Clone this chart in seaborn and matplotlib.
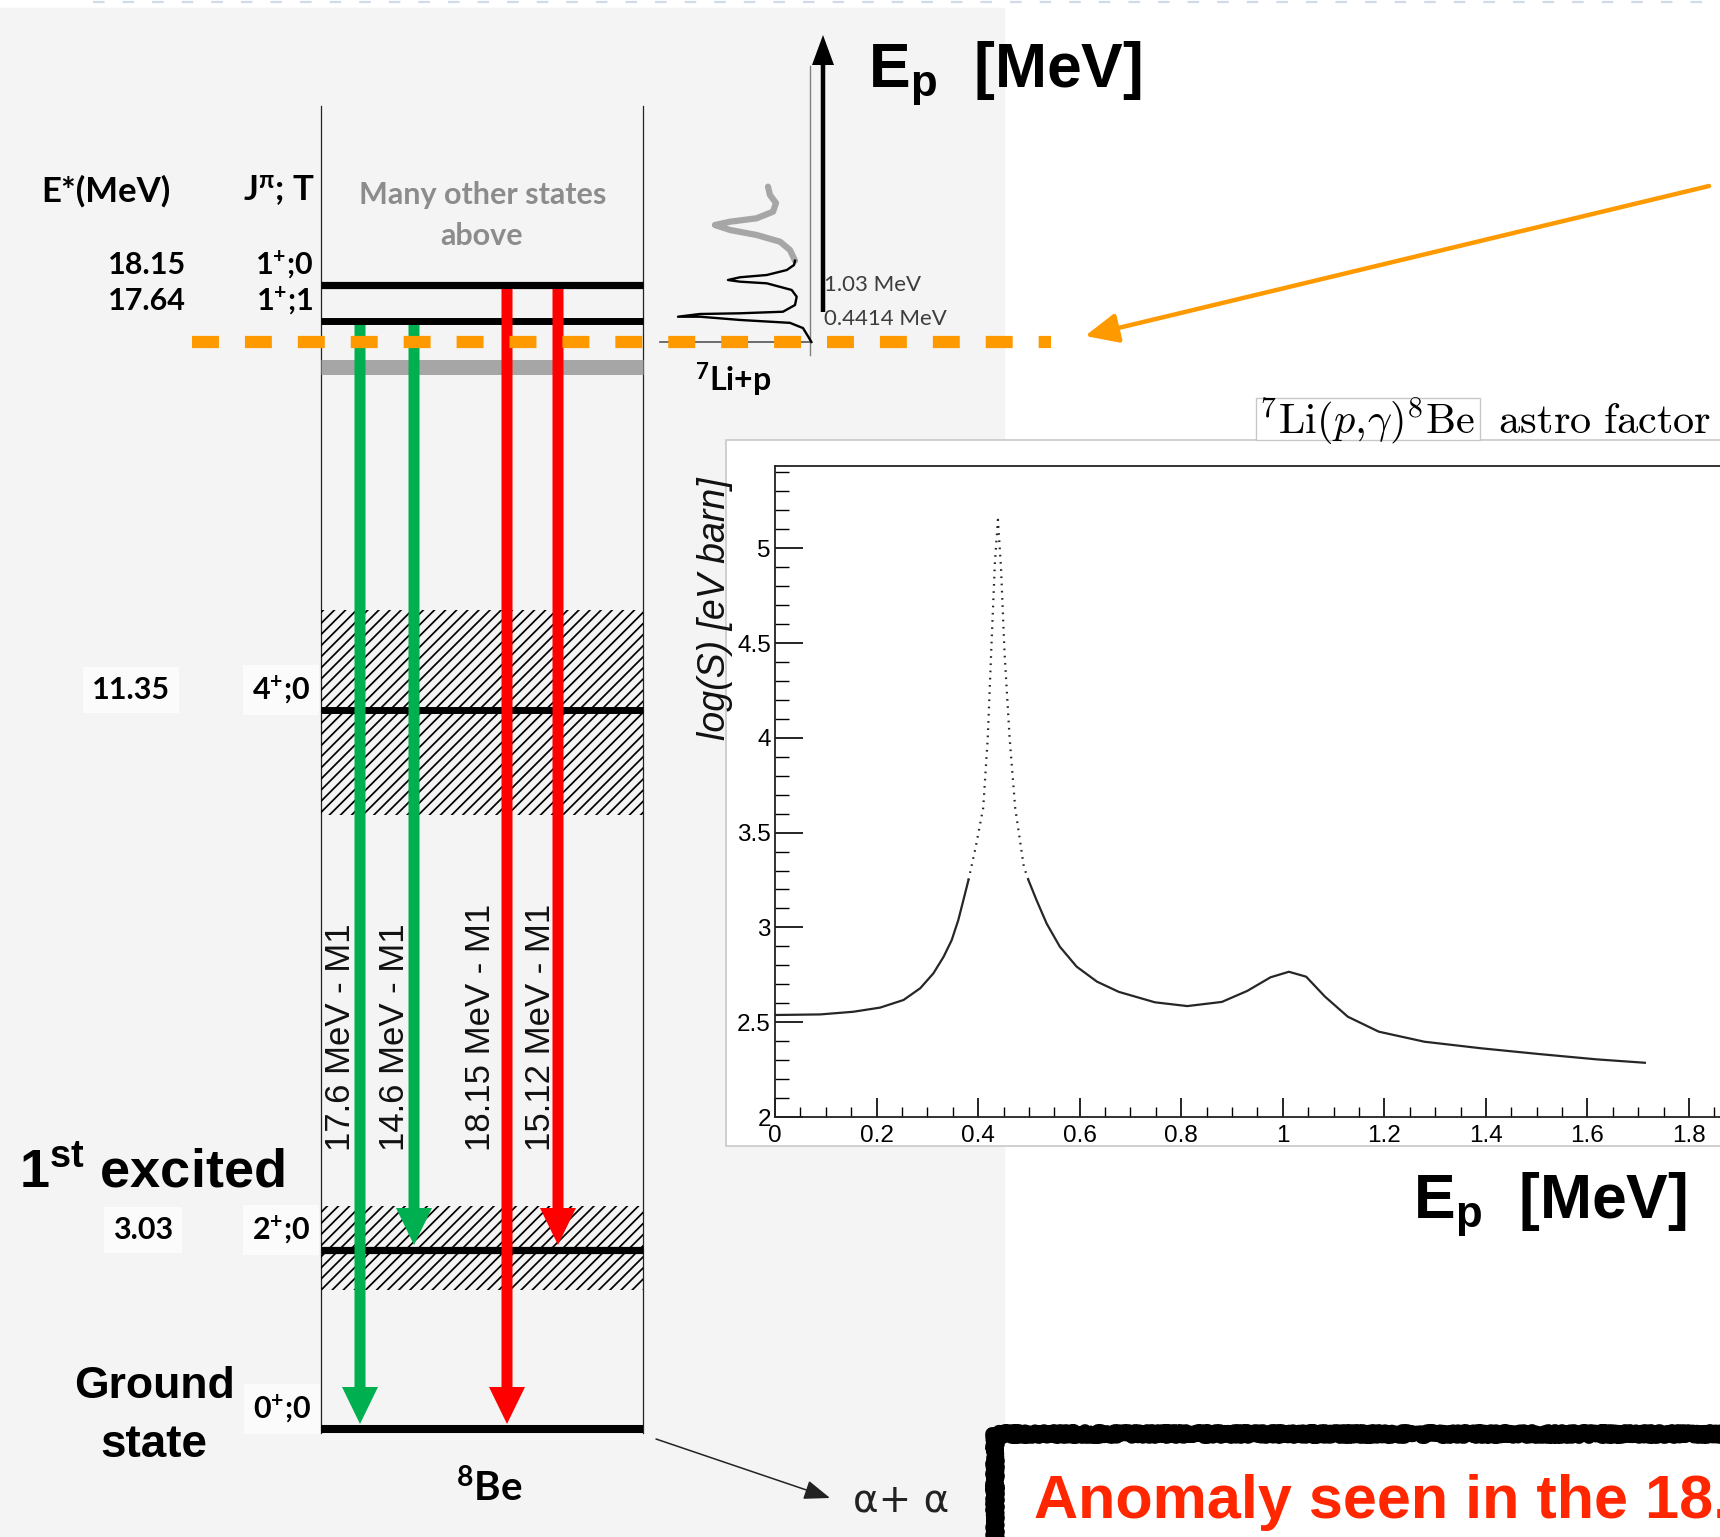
import matplotlib
matplotlib.use("Agg")
import numpy as np
import pandas as pd
import matplotlib.pyplot as plt
import seaborn as sns
from matplotlib.patches import Rectangle, FancyArrow
from matplotlib.ticker import MultipleLocator, FuncFormatter

# ------------------------------------------------------------------ data
level_energy = [18.15, 17.64, 11.35, 3.03, 0.0]
level_energy_text = ["18.15", "17.64", "11.35", "3.03", ""]
level_spin_text = [r"1$^{+}$;0", r"1$^{+}$;1", r"4$^{+}$;0", r"2$^{+}$;0", r"0$^{+}$;0"]
broad_level_energy = [11.35, 3.03]
broad_level_halfwidth = [1.62, 0.68]          # schematic widths (MeV)
gray_band_energy = 16.9
threshold_energy = 17.255                     # 7Li + p

transition_from = [17.64, 17.64, 18.15, 18.15]
transition_to = [0.0, 3.03, 0.0, 3.03]
transition_text = ["17.6 MeV - M1", "14.6 MeV - M1", "18.15 MeV - M1", "15.12 MeV - M1"]
transition_color = ["#00b050", "#00b050", "#ff0000", "#ff0000"]

resonance_text = ["1.03 MeV", "0.4414 MeV"]
resonance_ep = [1.03, 0.4414]

# schematic excitation curve (proton energy in MeV, yield arb. units)
spectrum_ep_black = [0.00, 0.09, 0.24, 0.33, 0.38, 0.436, 0.436, 0.483, 0.495, 0.522, 0.638,
                     0.781, 0.897, 1.012, 1.04, 1.069, 1.116, 1.155, 1.241, 1.328, 1.402]
spectrum_yield_black = [-0.01, 0.012, 0.05, 0.143, 0.50, 0.786, 0.943, 0.786, 0.50, 0.193,
                        0.107, 0.095, 0.131, 0.309, 0.50, 0.586, 0.50, 0.309, 0.166, 0.114,
                        0.107]
spectrum_ep_gray = [1.402, 1.586, 1.729, 1.845, 1.931, 2.017, 2.074, 2.133, 2.247, 2.397,
                    2.534, 2.678]
spectrum_yield_gray = [0.107, 0.143, 0.214, 0.381, 0.571, 0.679, 0.571, 0.381, 0.264, 0.243,
                       0.286, 0.30]

# 7Li(p,gamma)8Be astrophysical factor
ep_mev = [0.00, 0.089, 0.154, 0.207, 0.253, 0.286, 0.312, 0.332, 0.348, 0.361, 0.371, 0.381,
          0.395, 0.41, 0.419, 0.426, 0.433, 0.439, 0.445, 0.452, 0.462, 0.473, 0.49, 0.499,
          0.515, 0.535, 0.561, 0.594, 0.634, 0.677, 0.748, 0.812, 0.88, 0.93, 0.976, 1.012,
          1.046, 1.083, 1.128, 1.189, 1.279, 1.392, 1.505, 1.618, 1.713]
log_s = [2.538, 2.541, 2.555, 2.577, 2.617, 2.679, 2.758, 2.845, 2.933, 3.039, 3.144, 3.25,
         3.42, 3.63, 4.00, 4.47, 4.92, 5.15, 4.90, 4.45, 4.00, 3.63, 3.32, 3.25,
         3.144, 3.02, 2.898, 2.793, 2.714, 2.66, 2.605, 2.585, 2.607, 2.665, 2.737, 2.766,
         2.74, 2.635, 2.529, 2.45, 2.397, 2.362, 2.332, 2.304, 2.286]
x_ticks = [0, 0.2, 0.4, 0.6, 0.8, 1.0, 1.2, 1.4, 1.6, 1.8]

# ------------------------------------------------------------------ style
W, H = 1720, 1537
plt.rcParams.update({
    "font.family": ["Liberation Sans", "DejaVu Sans"],
    "mathtext.fontset": "custom",
    "mathtext.rm": "Lato:bold",
    "mathtext.it": "Lato:bold",
    "mathtext.bf": "Lato:bold",
    "mathtext.sf": "Liberation Sans:bold",
    "hatch.linewidth": 1.25,
    "lines.scale_dashes": False,
})
LATO = ["Lato", "DejaVu Sans"]
LIB = ["Liberation Sans", "DejaVu Sans"]

fig = plt.figure(figsize=(W / 100, H / 100), dpi=100)
ax = fig.add_axes([0, 0, 1, 1])
ax.set_xlim(0, W)
ax.set_ylim(H, 0)
ax.set_axis_off()

# schematic level scale (excitation energy -> vertical position)
lvl_E = [0.0, 3.03, 11.35, 17.64, 18.15]
lvl_Y = [1429, 1250, 710, 321, 285]
def ey(e):
    return float(np.interp(e, lvl_E, lvl_Y))

# proton-energy sketch scale
EP0, EP_SCALE, YIELD_X0, YIELD_SCALE = 342, 58, 810, 140

BOX_L, BOX_R = 321, 643

# background panels
ax.add_patch(Rectangle((0, 8), 1004, H, color="#f4f4f4", zorder=0))
ax.plot([93, W], [1.5, 1.5], color="#cfdbe8", lw=1.6, dashes=(8.3, 13), zorder=1)

# box
for xb in (BOX_L, BOX_R):
    ax.plot([xb, xb], [106, ey(0) + 4], color="#222222", lw=0.9, zorder=2)

# broad hatched levels
for e, hw in zip(broad_level_energy, broad_level_halfwidth):
    y0, y1 = ey(e + hw), ey(e - hw)
    ax.add_patch(Rectangle((BOX_L, y0), BOX_R - BOX_L, y1 - y0, facecolor="none",
                           edgecolor="black", hatch="///", lw=0, zorder=2))

# gray band
ax.plot([BOX_L, BOX_R], [ey(gray_band_energy)] * 2, color="#a6a6a6", lw=10.8,
        solid_capstyle="butt", zorder=3)

# levels
level_lw = [5.2, 5.0, 5.0, 5.2, 5.8]
for e, lw in zip(level_energy, level_lw):
    ax.plot([BOX_L, BOX_R], [ey(e)] * 2, color="black", lw=lw, solid_capstyle="butt", zorder=4)

# level labels
box_kw = dict(boxstyle="square,pad=0.3", fc="#fbfbfb", ec="none")
energy_x = [186, 186, 170, 173, None]
for e, t, xr, i in zip(level_energy, level_energy_text, energy_x, range(5)):
    if t:
        ax.text(xr, ey(e) - 20, t, ha="right", va="center", fontsize=22,
                family=LATO, weight="bold", bbox=box_kw if i >= 2 else None, zorder=5)
spin_x = [313, 313, 310, 310, 311]
for e, t, xr, i in zip(level_energy, level_spin_text, spin_x, range(5)):
    ax.text(xr, ey(e) - 20, t, ha="right", va="center", fontsize=22,
            family=LATO, weight="bold", bbox=box_kw if i >= 2 else None, zorder=5)

ax.text(106, 191, "E*(MeV)", ha="center", va="center", fontsize=25, family=LATO, weight="bold")
ax.text(279, 191, r"J$^{\pi}$; T", ha="center", va="center", fontsize=25, family=LATO, weight="bold")
ax.text(483, 195, "Many other states", ha="center", va="center", fontsize=22,
        family=LATO, weight="bold", color="#8c8c8c")
ax.text(482, 236, "above", ha="center", va="center", fontsize=22,
        family=LATO, weight="bold", color="#8c8c8c")

# transitions
arrow_x = [360, 414, 507, 558]
label_x = [340, 394, 481, 540]
for e0, e1, c, t, xa, xl in zip(transition_from, transition_to, transition_color,
                                 transition_text, arrow_x, label_x):
    y0 = ey(e0) + 4
    y1 = ey(e1) - 5
    ax.add_patch(FancyArrow(xa, y0, 0, y1 - y0, width=11, head_width=36, head_length=37,
                            length_includes_head=True, color=c, lw=0, zorder=6))
    ax.text(xl, 1151, t, rotation=90, ha="center", va="bottom", fontsize=25,
            family=LIB, color="#111111", zorder=7)

ax.text(19, 1188, r"1$^{\mathsf{st}}$ excited", ha="left", va="baseline", fontsize=39,
        family=LIB, weight="bold")
ax.text(154, 1387, "Ground", ha="center", va="center", fontsize=32, family=LIB, weight="bold")
ax.text(154, 1445, "state", ha="center", va="center", fontsize=33, family=LIB, weight="bold")
ax.text(489, 1488, r"$^{8}$Be", ha="center", va="center", fontsize=29, family=LATO, weight="bold")
ax.text(853, 1500, "\u03b1+ \u03b1", ha="left", va="center", fontsize=28, family=["DejaVu Sans"],
        color="#222222")
ax.annotate("", xy=(830, 1498), xytext=(656, 1439),
            arrowprops=dict(arrowstyle="-|>,head_length=0.8,head_width=0.3", color="#222222",
                            lw=1.1, mutation_scale=20, shrinkA=0, shrinkB=0))

# proton energy sketch
ax.plot([660, YIELD_X0], [EP0, EP0], color="#555555", lw=1.2, zorder=3)
ax.plot([YIELD_X0, YIELD_X0], [66, 355], color="#808080", lw=1.0, zorder=3)
ax.plot(YIELD_X0 - np.array(spectrum_yield_gray) * YIELD_SCALE,
        EP0 - np.array(spectrum_ep_gray) * EP_SCALE, color="#a6a6a6", lw=4.5,
        solid_capstyle="round", solid_joinstyle="round", zorder=3)
ax.plot(YIELD_X0 - np.array(spectrum_yield_black) * YIELD_SCALE,
        EP0 - np.array(spectrum_ep_black) * EP_SCALE, color="black", lw=1.7,
        solid_joinstyle="round", zorder=4)
ax.add_patch(FancyArrow(823, 312, 0, 35 - 312, width=4.5, head_width=22, head_length=30,
                        length_includes_head=True, color="black", lw=0, zorder=5))
for t, e in zip(resonance_text, resonance_ep):
    ax.text(824, EP0 - e * EP_SCALE + 3, t, ha="left", va="center", fontsize=16,
            family=["Lato", "DejaVu Sans"], color="#3d3d3d", zorder=6)
ax.text(695, 380, r"$^{7}$Li+p", ha="left", va="center", fontsize=23, family=LATO, weight="bold")
ax.text(868, 87, r"E$_{\mathsf{p}}$  [MeV]", ha="left", va="baseline", fontsize=45,
        family=LIB, weight="bold")

# threshold line + orange arrow
ty = ey(threshold_energy) - 3
ax.plot([192, 1051], [ty, ty], color="#ff9900", lw=8.8, dashes=(19.4, 18.7),
        dash_capstyle="butt", zorder=8)
ax.annotate("", xy=(1085, 336), xytext=(1709, 186),
            arrowprops=dict(arrowstyle="-|>,head_length=1.0,head_width=0.45", color="#ff9900",
                            lw=3.2, mutation_scale=20, shrinkA=0, shrinkB=0), zorder=8)

# inset panel
ax.add_patch(Rectangle((726, 440), 1100, 706, fc="white", ec="#c8c8c8", lw=1.2, zorder=1))
ax.add_patch(Rectangle((1256, 398), 224, 42, fc="white", ec="#c8c8c8", lw=1.0, zorder=2))
ax.text(1259, 434, r"$^{7}\mathrm{Li}(p,\!\gamma)^{8}\mathrm{Be}\ \ \mathrm{astro\ factor}$",
        ha="left", va="baseline", fontsize=30.5, math_fontfamily="cm", zorder=5)
ax.text(715, 477, "log(S) [eV barn]", rotation=90, ha="center", va="top", fontsize=27,
        family=LIB, style="italic", color="#111111", zorder=5)
ax.text(1687, 1218, r"E$_{\mathsf{p}}$  [MeV]", ha="right", va="baseline", fontsize=45,
        family=LIB, weight="bold")

# bottom red box (brush-like border)
rb = Rectangle((995, 1434), 900, 200, fc="white", ec="black", lw=10, zorder=3)
rb.set_joinstyle("round")
rb.set_capstyle("round")
rb.set_sketch_params(scale=3.0, length=5, randomness=3)
ax.add_patch(rb)
rb2 = Rectangle((995, 1431), 900, 205, fc="none", ec="black", lw=3, zorder=3)
rb2.set_joinstyle("round")
rb2.set_sketch_params(scale=3.5, length=3, randomness=4)
ax.add_patch(rb2)
ax.text(1034, 1518, "Anomaly seen in the 18.15 MeV transition", ha="left", va="baseline",
        fontsize=44, family=LIB, weight="bold", color="#ff2600", zorder=4)

# ------------------------------------------------------------------ inset axes
x0_px, x_per, y0_px, y_per = 775, 507.8, 1117, 189.6
ax2 = fig.add_axes([x0_px / W, 1 - y0_px / H, 2.0 * x_per / W, (y0_px - 466) / H])
ax2.set_zorder(3)
df = pd.DataFrame({"Ep": ep_mev, "logS": log_s})
left = df[df.Ep <= 0.381]
peak = df[(df.Ep >= 0.381) & (df.Ep <= 0.499)]
right = df[df.Ep >= 0.499]
sns.lineplot(data=left, x="Ep", y="logS", ax=ax2, color="#262626", lw=1.6, sort=True)
sns.lineplot(data=right, x="Ep", y="logS", ax=ax2, color="#262626", lw=1.6, sort=True)
pk = sns.lineplot(data=peak, x="Ep", y="logS", ax=ax2, color="#262626", lw=1.6, sort=False)
pk.lines[-1].set_dashes((1.2, 4.0))
ax2.set_xlim(0, 2.0)
ax2.set_ylim(2, 2 + (y0_px - 466) / y_per)
ax2.set_xlabel("")
ax2.set_ylabel("")
ax2.set_facecolor("white")
for s in ("left", "bottom", "top"):
    ax2.spines[s].set_linewidth(1.3)
    ax2.spines[s].set_color("#222222")
ax2.spines["right"].set_visible(False)
ax2.set_xticks(x_ticks)
ax2.xaxis.set_minor_locator(MultipleLocator(0.05))
ax2.yaxis.set_major_locator(MultipleLocator(0.5))
ax2.yaxis.set_minor_locator(MultipleLocator(0.1))
fmt = FuncFormatter(lambda v, _: f"{v:g}")
ax2.xaxis.set_major_formatter(fmt)
ax2.yaxis.set_major_formatter(fmt)
ax2.tick_params(axis="x", which="major", direction="in", length=14, width=1.2, pad=6,
                labelsize=17.5, top=False)
ax2.tick_params(axis="x", which="minor", direction="in", length=7, width=1.0, top=False)
ax2.tick_params(axis="y", which="major", direction="in", length=20, width=1.2, pad=3,
                labelsize=17.5, right=False)
ax2.tick_params(axis="y", which="minor", direction="in", length=10, width=1.0, right=False)

fig.savefig("out.png", dpi=100)
